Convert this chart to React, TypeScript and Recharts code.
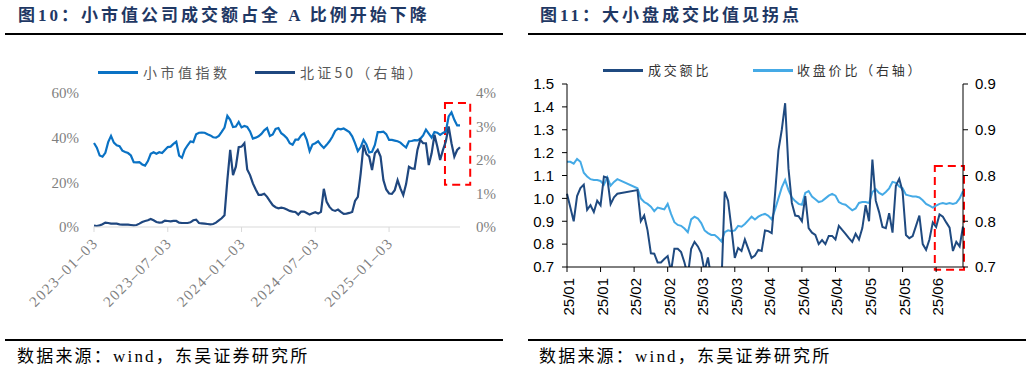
import React from "react";
import { LineChart, Line, XAxis, YAxis, ReferenceArea } from "recharts";

// 图10: weekly, 2023-01-03 .. 2025-06
const smallCapShare = [
  37.6, 35.5, 32, 31.5, 33.2, 38, 40.8, 37.8, 36.6, 36.2,
  34.2, 33.6, 33.1, 32, 29, 28.9, 29, 28, 27.5, 29.5,
  32.8, 33.5, 32.8, 33.5, 33.1, 34.5, 35.8, 36, 37.2, 38.2,
  32, 31, 34.6, 36.6, 38.3, 38, 41.5, 42.2, 42.3, 42.2,
  41.5, 41, 40.2, 40, 40.8, 42.6, 44.5, 49.8, 48, 44.8,
  45, 47, 44.6, 45.2, 44.8, 42.8, 39.6, 40, 40.6, 41.7,
  43.3, 44.3, 40.8, 41.4, 43.9, 44.3, 42, 41, 39.8, 37.5,
  36.8, 39.1, 39.1, 41, 42, 39, 34, 36.9, 37.5, 38.4,
  36.7, 35.4, 36.8, 38.4, 40.4, 43, 44, 43.7, 44.1, 43.3,
  42.5, 40.6, 37.6, 34, 35.8, 39, 37, 33.4, 33.7, 36.7,
  42.5, 42.5, 42.7, 41.6, 39, 39, 38.7, 38.4, 37.8, 36.6,
  35.6, 38.4, 38.5, 38.9, 38.8, 39.5, 41, 43.6, 41.8, 40,
  42.5, 42.2, 41.2, 42.1, 42.8, 49.5, 51.3, 48, 45.5, 45.5,
];
const bz50Share = [
  0.04, 0.03, 0.05, 0.08, 0.13, 0.12, 0.1, 0.1, 0.1, 0.08,
  0.07, 0.07, 0.07, 0.06, 0.05, 0.06, 0.1, 0.15, 0.18, 0.2,
  0.24, 0.2, 0.15, 0.13, 0.14, 0.19, 0.18, 0.17, 0.18, 0.18,
  0.13, 0.12, 0.12, 0.12, 0.14, 0.2, 0.22, 0.12, 0.11, 0.1,
  0.09, 0.08, 0.09, 0.13, 0.2, 0.26, 0.35, 1.4, 2.3, 1.55,
  1.8, 2.38, 2.4, 2.5, 1.72, 1.55, 1.3, 1.12, 0.96, 0.96,
  0.99, 0.9, 0.77, 0.65, 0.59, 0.56, 0.58, 0.56, 0.52, 0.48,
  0.46, 0.45, 0.37, 0.46, 0.46, 0.42, 0.37, 0.41, 0.44, 0.4,
  0.45, 1.14, 0.75, 0.6, 0.51, 0.48, 0.52, 0.45, 0.39, 0.4,
  0.42, 0.45, 0.78, 0.9, 1.6, 2.45, 2.18, 2.1, 1.7, 2.2,
  2.3, 2.1, 1.4, 1.12, 1.0, 0.99, 1.1, 1.4, 1.15, 0.95,
  1.28, 1.8, 1.75, 1.74, 2.3, 2.6, 2.5, 2.5, 1.85, 2.2,
  2.75, 2.4, 2.0, 2.3, 2.55, 3.0, 2.5, 2.1, 2.3, 2.38,
];
const fig10Ticks = [0, 26, 52, 78, 104];
const fig10TickLabels = ["2023–01–03", "2023–07–03", "2024–01–03", "2024–07–03", "2025–01–03"];

// 图11: daily, 2025-01 .. 2025-06 (null = no data, line is joined)
const turnoverRatio = [
  1.02, 0.96, 0.9, 1.01, 1.045, 1.06, 0.95, 0.97, 0.94, 0.99,
  0.97, 1.095, 1.09, 0.975, 1.005, 1.02, null, null, null, null,
  null, 1.036, 0.9, 0.925, 0.86, 0.76, 0.758, 0.72, 0.72, 0.735,
  0.748, 0.68, 0.78, 0.78, 0.765, 0.72, 0.66, 0.78, 0.81, 0.79,
  0.76, 0.68, 0.742, 0.65, 0.62, 0.62, 0.62, 1.03, 0.99, 0.87,
  0.74, 0.783, 0.77, 0.82, 0.78, 0.74, 0.75, 0.775, 0.77, 0.86,
  0.857, 0.848, 1.02, 1.21, 1.3, 1.416, 1.13, 0.98, 0.925, 0.922,
  0.9, 1.01, 0.87, 0.85, 0.84, 0.8, 0.818, 0.8, 0.836, 0.836,
  0.82, 0.88, 0.862, 0.845, 0.826, 0.81, 0.845, 0.82, 0.87, 0.97,
  0.9, 1.17, 0.99, 0.94, 0.875, 0.87, 0.935, 0.85, 1.055, 1.085,
  1.03, 0.84, 0.826, 0.835, 0.88, 0.925, 0.8, 0.775, 0.82, 0.895,
  0.875, 0.93, 0.92, 0.895, 0.872, 0.77, 0.81, 0.79, 0.877,
];
const closeRatio = [
  0.815, 0.815, 0.813, 0.818, 0.815, 0.803, 0.799, 0.796, 0.795, 0.795,
  0.794, 0.79, 0.798, 0.789, 0.793, 0.796, null, null, null, null,
  null, 0.786, 0.775, 0.771, 0.769, 0.766, 0.761, 0.765, 0.764, 0.763,
  0.769, 0.758, 0.749, 0.746, 0.745, 0.742, 0.738, 0.752, 0.755, 0.753,
  0.748, 0.74, 0.737, 0.735, 0.735, 0.732, 0.728, 0.738, 0.74, 0.739,
  0.74, 0.745, 0.744, 0.747, 0.751, 0.755, 0.752, 0.755, 0.757, 0.758,
  0.756, 0.752, 0.763, 0.775, 0.787, 0.795, 0.784, 0.776, 0.772, 0.769,
  0.768, 0.781, 0.783, 0.777, 0.774, 0.771, 0.772, 0.775, 0.778, 0.78,
  0.778, 0.771, 0.769, 0.768, 0.765, 0.762, 0.764, 0.77, 0.771, 0.771,
  0.77, 0.782, 0.785, 0.781, 0.779, 0.782, 0.786, 0.793, 0.792, 0.788,
  0.786, 0.779, 0.778, 0.777, 0.777, 0.776, 0.773, 0.769, 0.767, 0.765,
  0.767, 0.769, 0.77, 0.769, 0.77, 0.769, 0.77, 0.775, 0.783,
];
const fig11Ticks = [0, 10, 20, 30, 40, 50, 60, 70, 80, 90, 100, 110];
const fig11TickLabels = ["25/01", "25/01", "25/02", "25/02", "25/03", "25/03", "25/04", "25/04", "25/04", "25/05", "25/05", "25/06"];
const fig11LeftTicks = [0.7, 0.8, 0.9, 1.0, 1.1, 1.2, 1.3, 1.4, 1.5];
const fig11RightTicks = [0.7, 0.75, 0.8, 0.85, 0.9];
const fig11RightLabels = ["0.7", "0.8", "0.8", "0.9", "0.9"];

const fig10Data = smallCapShare.map((v, i) => ({ i, small: v, bz50: bz50Share[i] }));
const fig11Data = turnoverRatio.map((v, i) => ({ i, turnover: v, close: closeRatio[i] }));

const SERIF = "'Liberation Serif', 'Noto Sans CJK SC', serif";
const CJK = "'Noto Sans CJK SC', sans-serif";
const SANS = "'Liberation Sans', Arial, sans-serif";

function DateTick(props: any) {
  const { x, y, payload } = props;
  const label = fig10TickLabels[fig10Ticks.indexOf(payload.value)];
  const px = x + 5;
  const py = y + 10;
  return (
    <text x={px} y={py} transform={`rotate(-45 ${px} ${py})`} textAnchor="end"
      fill="#7f7f7f" fontSize={15} fontFamily={SERIF} letterSpacing={1.5}>
      {label}
    </text>
  );
}

function MonthTick(props: any) {
  const { x, y, payload } = props;
  const label = fig11TickLabels[fig11Ticks.indexOf(payload.value)];
  const px = x + 7;
  const py = y + 4;
  return (
    <text x={px} y={py} transform={`rotate(-90 ${px} ${py})`} textAnchor="end"
      fill="#000" fontSize={15} fontFamily={SANS}>
      {label}
    </text>
  );
}

function LegendItem({ left, top, color, text, textLeft, fontSize, spacing, textColor }: any) {
  return (
    <>
      <div style={{ position: "absolute", left, top: top - 1, width: 40, height: 2.5, background: color }} />
      <div style={{ position: "absolute", left: textLeft, top: top - 11, fontSize, letterSpacing: spacing,
        color: textColor, fontFamily: CJK, lineHeight: "22px", whiteSpace: "nowrap" }}>
        {text}
      </div>
    </>
  );
}

const titleStyle: React.CSSProperties = {
  position: "absolute", top: 4, fontSize: 17, fontWeight: "bold", color: "#1f3864",
  fontFamily: SERIF, letterSpacing: 3, whiteSpace: "nowrap", lineHeight: "24px",
};
const sourceStyle: React.CSSProperties = {
  position: "absolute", top: 345, fontSize: 17, color: "#000", fontFamily: SERIF,
  letterSpacing: 2.2, whiteSpace: "nowrap", lineHeight: "24px",
};
const rule = (left: number, top: number): React.CSSProperties => ({
  position: "absolute", left, top, width: 498, height: 2, background: "#000",
});

export default function App() {
  return (
    <div style={{ position: "absolute", left: 0, top: 0, width: 1032, height: 374, background: "#fff", overflow: "hidden" }}>
      {/* 图10 */}
      <div style={{ ...titleStyle, left: 18 }}>图10：小市值公司成交额占全 A 比例开始下降</div>
      <div style={rule(5, 33)} />
      <div style={{ position: "absolute", left: 0, top: 0 }}>
        <LineChart width={516} height={340} data={fig10Data} margin={{ top: 93, right: 6, bottom: 53, left: 34 }}>
          <XAxis dataKey="i" type="number" domain={[0, 129]} ticks={fig10Ticks} interval={0}
            stroke="#d9d9d9" tickSize={5} height={60} tick={<DateTick />} />
          <YAxis yAxisId="left" domain={[0, 60]} ticks={[0, 20, 40, 60]} width={60}
            axisLine={false} tickLine={false} tickMargin={9} tickFormatter={(v: number) => `${v}%`}
            tick={{ fill: "#7f7f7f", fontSize: 15, fontFamily: SERIF }} />
          <YAxis yAxisId="right" orientation="right" domain={[0, 4]} ticks={[0, 1, 2, 3, 4]} width={50}
            axisLine={false} tickLine={false} tickMargin={10} tickFormatter={(v: number) => `${v}%`}
            tick={{ fill: "#7f7f7f", fontSize: 15, fontFamily: SERIF, textAnchor: "start" }} />
          <Line yAxisId="left" dataKey="small" stroke="#0a72c4" strokeWidth={2.2} dot={false} isAnimationActive={false} />
          <Line yAxisId="right" dataKey="bz50" stroke="#1f477f" strokeWidth={2.2} dot={false} isAnimationActive={false} />
          <ReferenceArea yAxisId="left" x1={123.7} x2={132.6} y1={18.9} y2={55.5} ifOverflow="visible"
            fill="none" stroke="#ff0000" strokeWidth={2} strokeDasharray="8 5" />
        </LineChart>
      </div>
      <LegendItem left={98} top={72} color="#0a72c4" text="小市值指数" textLeft={143} fontSize={14} spacing={3.5} textColor="#595959" />
      <LegendItem left={255} top={72} color="#1f477f" text="北证50（右轴）" textLeft={300} fontSize={14} spacing={3.2} textColor="#595959" />
      <div style={rule(5, 339)} />
      <div style={{ ...sourceStyle, left: 17 }}>数据来源：wind，东吴证券研究所</div>

      {/* 图11 */}
      <div style={{ ...titleStyle, left: 540 }}>图11：大小盘成交比值见拐点</div>
      <div style={rule(528, 33)} />
      <div style={{ position: "absolute", left: 516, top: 0 }}>
        <LineChart width={516} height={340} data={fig11Data} margin={{ top: 84, right: 19, bottom: 13, left: 11 }}>
          <XAxis dataKey="i" type="number" domain={[0, 118]} ticks={fig11Ticks} interval={0}
            stroke="#000" tickSize={5} height={60} tick={<MonthTick />} />
          <YAxis yAxisId="left" domain={[0.7, 1.5]} ticks={fig11LeftTicks} allowDataOverflow width={40}
            stroke="#000" tickSize={5} tickMargin={8} tickFormatter={(v: number) => v.toFixed(1)}
            tick={{ fill: "#000", fontSize: 15, fontFamily: SANS }} />
          <YAxis yAxisId="right" orientation="right" domain={[0.7, 0.9]} ticks={fig11RightTicks} width={50}
            stroke="#000" tickSize={5} tickMargin={7}
            tickFormatter={(v: number) => fig11RightLabels[fig11RightTicks.indexOf(v)]}
            tick={{ fill: "#000", fontSize: 15, fontFamily: SANS }} />
          <Line yAxisId="right" dataKey="close" stroke="#45aae6" strokeWidth={2} dot={false} connectNulls isAnimationActive={false} />
          <Line yAxisId="left" dataKey="turnover" stroke="#1f4a80" strokeWidth={2} dot={false} connectNulls isAnimationActive={false} />
          <ReferenceArea yAxisId="left" x1={109.6} x2={118.3} y1={0.688} y2={1.142} ifOverflow="visible"
            fill="none" stroke="#ff0000" strokeWidth={2} strokeDasharray="8 5" />
        </LineChart>
      </div>
      <LegendItem left={603} top={70} color="#1f4a80" text="成交额比" textLeft={648} fontSize={13} spacing={2.8} textColor="#333" />
      <LegendItem left={753} top={70} color="#45aae6" text="收盘价比（右轴）" textLeft={797} fontSize={13} spacing={2.8} textColor="#333" />
      <div style={rule(528, 339)} />
      <div style={{ ...sourceStyle, left: 539 }}>数据来源：wind，东吴证券研究所</div>
    </div>
  );
}
